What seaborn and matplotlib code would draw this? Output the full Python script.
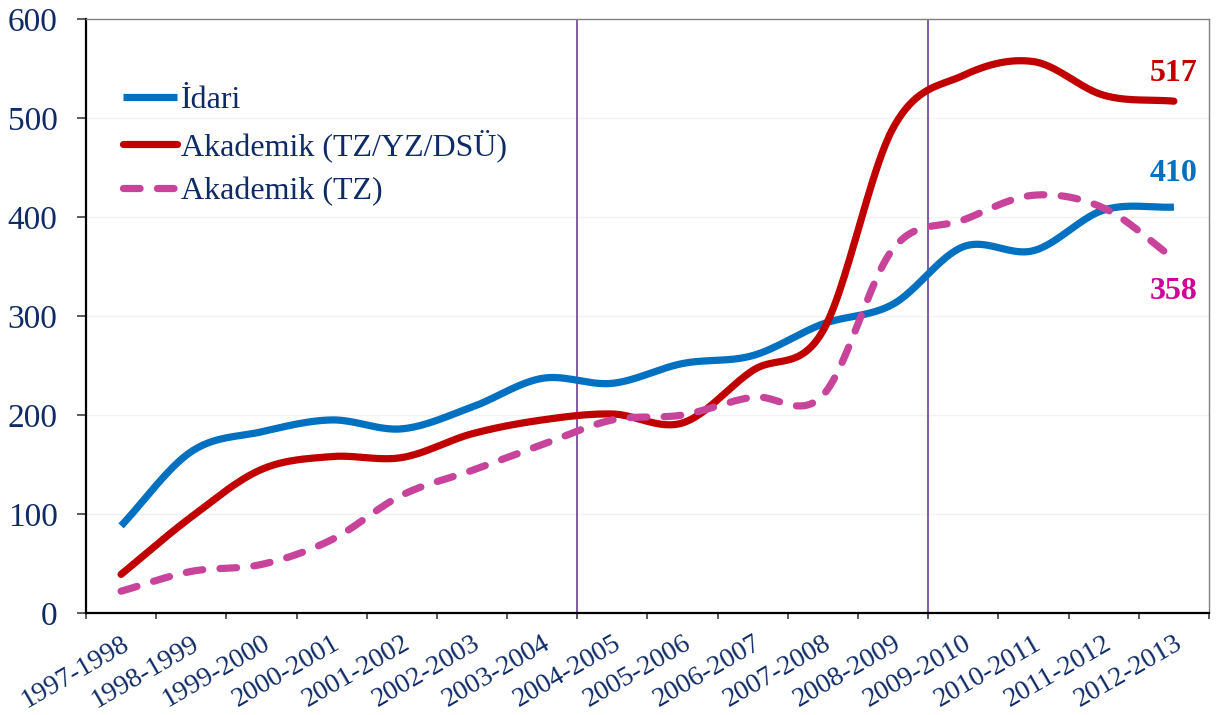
import numpy as np
import matplotlib
matplotlib.use("Agg")
import matplotlib.pyplot as plt
import seaborn as sns

years = ["1997-1998", "1998-1999", "1999-2000", "2000-2001", "2001-2002",
         "2002-2003", "2003-2004", "2004-2005", "2005-2006", "2006-2007",
         "2007-2008", "2008-2009", "2009-2010", "2010-2011", "2011-2012",
         "2012-2013"]
idari = [88, 163, 183, 195, 186, 208, 237, 232, 252, 260, 292, 312, 370, 366, 407, 410]
akademik_all = [39, 97, 145, 158, 157, 181, 195, 201, 192, 245, 285, 490, 543, 557, 523, 517]
akademik_tz = [22, 42, 49, 74, 119, 144, 170, 195, 200, 218, 220, 368, 397, 422, 409, 358]
period_breaks = ["2004-2005", "2009-2010"]

NAVY = "#0F2B66"
BLUE = "#0070C0"
RED = "#C00000"
PINK = "#C8449A"
PINK_TXT = "#D0009A"
PURPLE = "#6B3F98"


def smooth(vals, n=40):
    # excel-like smoothed line (catmull-rom through every point)
    y = np.asarray(vals, dtype=float)
    m = np.zeros_like(y)
    m[1:-1] = (y[2:] - y[:-2]) / 2
    m[0] = y[1] - y[0]
    m[-1] = y[-1] - y[-2]
    xs, ys = [], []
    for i in range(len(y) - 1):
        t = np.linspace(0, 1, n, endpoint=False)
        h00 = 2 * t**3 - 3 * t**2 + 1
        h10 = t**3 - 2 * t**2 + t
        h01 = -2 * t**3 + 3 * t**2
        h11 = t**3 - t**2
        xs.append(i + t)
        ys.append(h00 * y[i] + h10 * m[i] + h01 * y[i + 1] + h11 * m[i + 1])
    xs.append([len(y) - 1])
    ys.append([y[-1]])
    return np.concatenate(xs), np.concatenate(ys)


sns.set_style("ticks")
plt.rcParams["font.family"] = ["Liberation Serif", "DejaVu Serif"]

fig = plt.figure(figsize=(12.18, 7.15), dpi=100)
ax = fig.add_axes([0.0706, 0.1427, 0.922, 0.8307])

for y in range(100, 600, 100):
    ax.axhline(y, color="#F2F2F2", lw=1, zorder=0)

for p in period_breaks:
    ax.axvline(years.index(p) - 0.5, color=PURPLE, lw=1.2, zorder=1)

x, y = smooth(idari)
sns.lineplot(x=x, y=y, ax=ax, color=BLUE, lw=5.2, label="İdari",
             solid_capstyle="butt", zorder=3)
x, y = smooth(akademik_all)
sns.lineplot(x=x, y=y, ax=ax, color=RED, lw=5.2, label="Akademik (TZ/YZ/DSÜ)",
             solid_capstyle="round", zorder=3)
x, y = smooth(akademik_tz)
sns.lineplot(x=x, y=y, ax=ax, color=PINK, lw=5.2, label="Akademik (TZ)",
             linestyle=(0, (2.3, 2.4)), dash_capstyle="round", zorder=3)

ax.set_xlim(-0.5, len(years) - 0.5)
ax.set_ylim(0, 600)
ax.set_yticks(range(0, 601, 100))
ax.set_xticks(range(len(years)))
ax.set_xticklabels(years, rotation=30, ha="right", rotation_mode="anchor",
                   va="top")
ax.set_xticks(np.arange(-0.5, len(years), 1), minor=True)
ax.tick_params(axis="x", which="major", length=0, pad=13, labelsize=20,
               labelcolor=NAVY)
ax.tick_params(axis="x", which="minor", length=4.5, width=1.2, color="#404040",
               direction="out")
ax.tick_params(axis="y", length=6.5, width=1.2, color="#404040", pad=14,
               labelsize=24, labelcolor=NAVY)
ax.set_xlabel("")
ax.set_ylabel("")

for side in ["left", "bottom"]:
    ax.spines[side].set_color("black")
    ax.spines[side].set_linewidth(1.6)
for side in ["top", "right"]:
    ax.spines[side].set_visible(True)
    ax.spines[side].set_color("#808080")
    ax.spines[side].set_linewidth(1)

leg = ax.legend(loc="upper left", bbox_to_anchor=(0.033, 0.888), frameon=False,
                fontsize=23, handlelength=1.7, handletextpad=0.1,
                labelspacing=0.45, borderpad=0, borderaxespad=0)
for t in leg.get_texts():
    t.set_color(NAVY)

last = len(years) - 1
ax.annotate(str(akademik_all[-1]), (last, akademik_all[-1]), xytext=(0, 20),
            textcoords="offset points", ha="center", va="center",
            color=RED, fontsize=23, fontweight="bold")
ax.annotate(str(idari[-1]), (last, idari[-1]), xytext=(0, 24),
            textcoords="offset points", ha="center", va="center",
            color=BLUE, fontsize=23, fontweight="bold")
ax.annotate(str(akademik_tz[-1]), (last, akademik_tz[-1]), xytext=(0, -24),
            textcoords="offset points", ha="center", va="center",
            color=PINK_TXT, fontsize=23, fontweight="bold")

fig.savefig("out.png", dpi=100)
